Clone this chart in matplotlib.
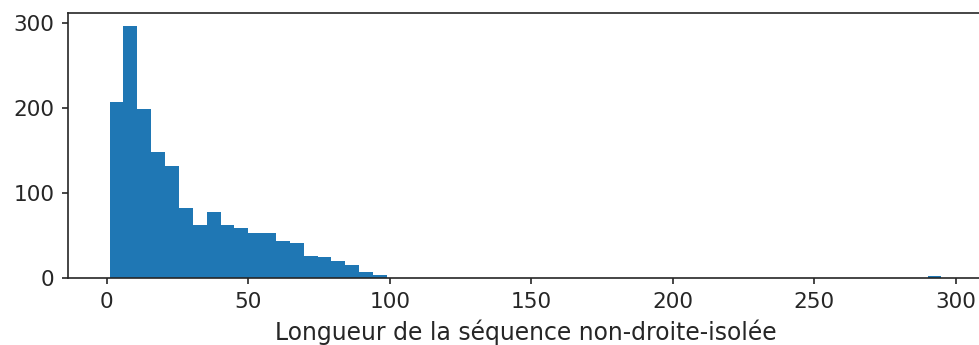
import matplotlib
matplotlib.use("Agg")
import matplotlib.pyplot as plt
import numpy as np

# histogram: 60 bins between min and max sequence length
len_min = 1
len_max = 295
n_bins = 60
counts = [207, 297, 199, 148, 132, 82, 62, 78, 62, 59,
          53, 53, 44, 41, 26, 25, 20, 15, 7, 4] + [0] * 39 + [2]
xlabel = "Longueur de la séquence non-droite-isolée"

edges = np.linspace(len_min, len_max, n_bins + 1)

dark = "#262626"
fig = plt.figure(figsize=(979 / 150, 345 / 150), dpi=150)
ax = fig.add_axes([68 / 979, 67 / 345, 915 / 979, 265 / 345])
ax.hist(edges[:-1], bins=edges, weights=counts, color="#1f77b4",
        histtype="stepfilled")
ax.set_xlabel(xlabel, fontsize=11.3, color=dark)
ax.set_xticks([0, 50, 100, 150, 200, 250, 300])
ax.set_yticks([0, 100, 200, 300])
ax.tick_params(labelsize=10.4, labelcolor=dark, color=dark, length=3)
for sp in ax.spines.values():
    sp.set_color(dark)

fig.savefig("out.png", dpi=150)
